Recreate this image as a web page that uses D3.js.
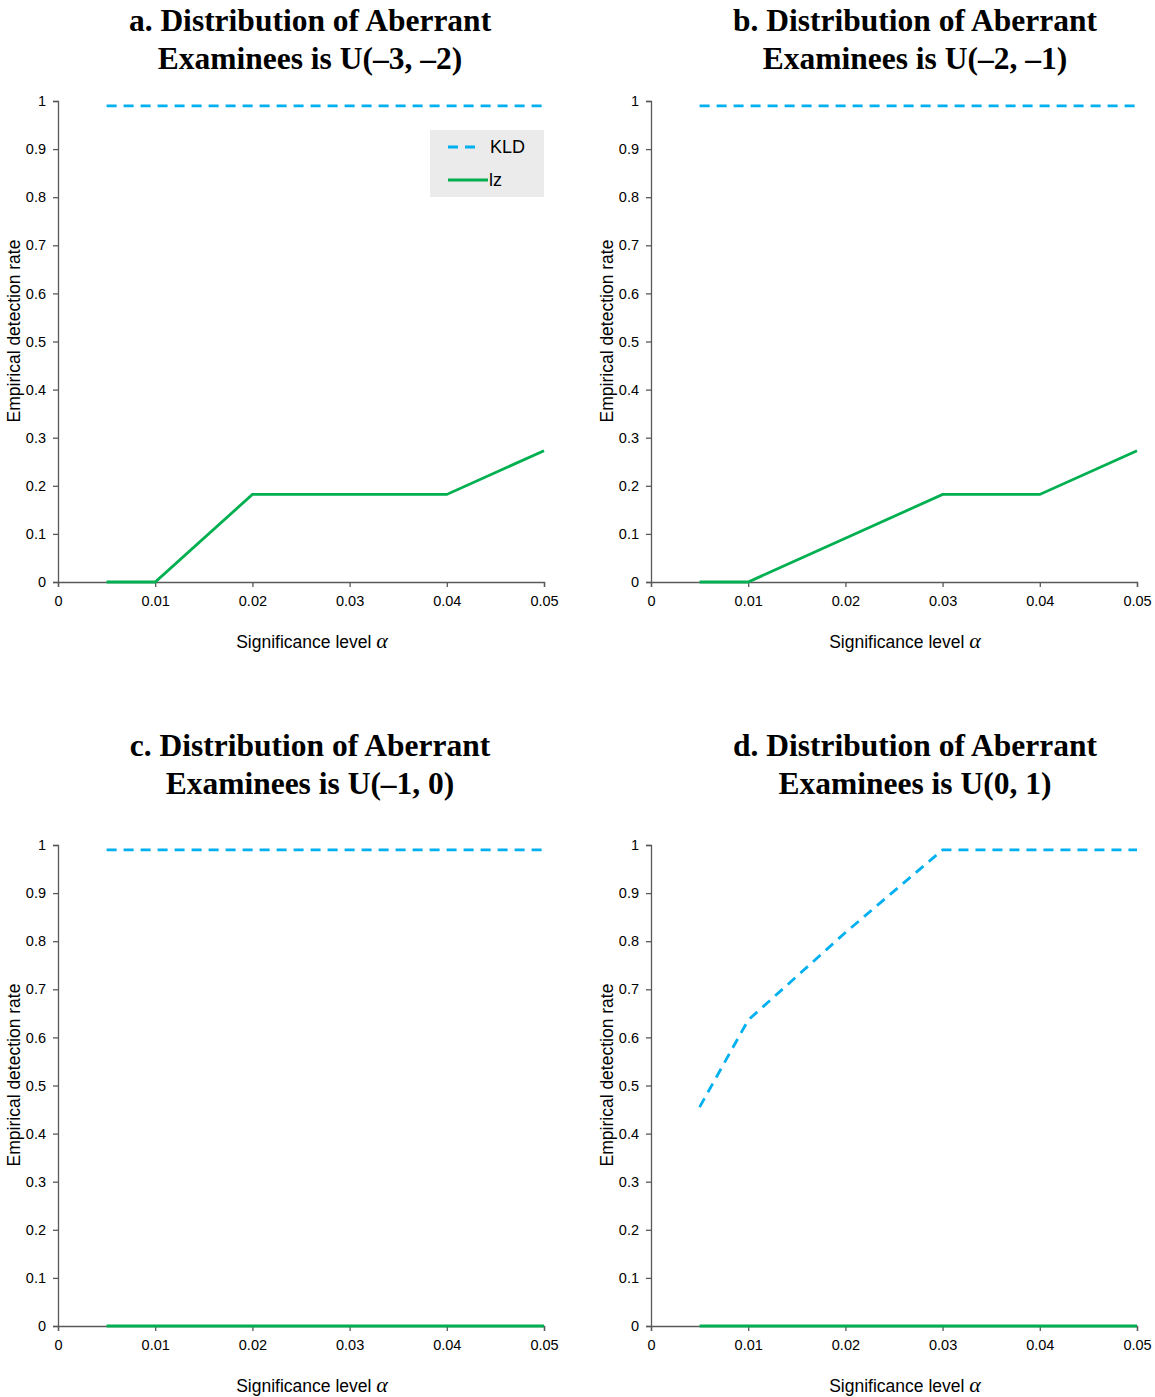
<!DOCTYPE html>
<html>
<head>
<meta charset="utf-8">
<script src="https://cdn.jsdelivr.net/npm/d3@7/dist/d3.min.js"></script>
<style>
  body { margin: 0; background: #fff; }
  svg { display: block; }
</style>
</head>
<body>
<script>
// significance levels
const alphas = [0.005, 0.01, 0.02, 0.03, 0.04, 0.05];
const xTicks = [0, 0.01, 0.02, 0.03, 0.04, 0.05];
const yTicks = [0, 0.1, 0.2, 0.3, 0.4, 0.5, 0.6, 0.7, 0.8, 0.9, 1];

const titles = [
  ["a. Distribution of Aberrant", "Examinees is U(\u20133, \u20132)"],
  ["b. Distribution of Aberrant", "Examinees is U(\u20132, \u20131)"],
  ["c. Distribution of Aberrant", "Examinees is U(\u20131, 0)"],
  ["d. Distribution of Aberrant", "Examinees is U(0, 1)"]
];

const kldA = [0.99, 0.99, 0.99, 0.99, 0.99, 0.99];
const lzA  = [0, 0, 0.182, 0.182, 0.182, 0.273];
const kldB = [0.99, 0.99, 0.99, 0.99, 0.99, 0.99];
const lzB  = [0, 0, 0.091, 0.182, 0.182, 0.273];
const kldC = [0.99, 0.99, 0.99, 0.99, 0.99, 0.99];
const lzC  = [0, 0, 0, 0, 0, 0];
const kldD = [0.455, 0.636, 0.818, 0.99, 0.99, 0.99];
const lzD  = [0, 0, 0, 0, 0, 0];

const panels = [
  { kld: kldA, lz: lzA, ox: 0,   oy: 0,   tx: 310, ty: 31,  legend: true },
  { kld: kldB, lz: lzB, ox: 593, oy: 0,   tx: 322, ty: 31 },
  { kld: kldC, lz: lzC, ox: 0,   oy: 744, tx: 310, ty: 12 },
  { kld: kldD, lz: lzD, ox: 593, oy: 744, tx: 322, ty: 12 }
];

const svg = d3.select('body').append('svg')
    .attr('width', 1155)
    .attr('height', 1397);

const axisColor = '#595959';
const sans = '"Liberation Sans", Arial, sans-serif';

panels.forEach((p, i) => {
  const g = svg.append('g').attr('transform', `translate(${p.ox},${p.oy})`);

  const x = d3.scaleLinear().domain([0, 0.05]).range([58, 544]);
  const y = d3.scaleLinear().domain([0, 1]).range([582, 101]);

  // title
  titles[i].forEach((t, k) => {
    g.append('text')
      .attr('x', p.tx).attr('y', p.ty + k * 38)
      .attr('text-anchor', 'middle')
      .style('font-family', '"Liberation Serif", "Times New Roman", serif')
      .style('font-weight', 'bold')
      .style('font-size', '31.5px')
      .text(t);
  });

  // y axis
  const ya = g.append('g').attr('transform', 'translate(58,0)')
    .call(d3.axisLeft(y).tickValues(yTicks).tickSize(5).tickPadding(7)
      .tickFormat(d => d === 0 || d === 1 ? d3.format('d')(d) : d3.format('.1f')(d)));
  // x axis
  const xa = g.append('g').attr('transform', 'translate(0,582)')
    .call(d3.axisBottom(x).tickValues(xTicks).tickSize(5).tickPadding(7)
      .tickFormat(d => d === 0 ? '0' : d3.format('.2f')(d)));

  [ya, xa].forEach(a => {
    a.select('.domain').attr('stroke', axisColor).attr('stroke-width', 1.3);
    a.selectAll('.tick line').attr('stroke', axisColor).attr('stroke-width', 1.3);
    a.selectAll('.tick text')
      .style('font-family', sans)
      .style('font-size', '14.5px')
      .attr('fill', '#000');
  });
  xa.selectAll('.tick text').attr('dy', '0.8em');

  // axis titles
  g.append('text')
    .attr('transform', 'translate(20,331) rotate(-90)')
    .attr('text-anchor', 'middle')
    .style('font-family', sans)
    .style('font-size', '17.5px')
    .text('Empirical detection rate');

  const xl = g.append('text')
    .attr('x', 312).attr('y', 648)
    .attr('text-anchor', 'middle')
    .style('font-family', sans)
    .style('font-size', '17.5px');
  xl.append('tspan').text('Significance level ');
  xl.append('tspan')
    .style('font-family', '"Liberation Serif", "Times New Roman", serif')
    .style('font-style', 'italic')
    .style('font-size', '22px')
    .text('\u03b1');

  const line = d3.line().x((d, j) => x(alphas[j])).y(d => y(d));

  g.append('path')
    .datum(p.lz)
    .attr('d', line)
    .attr('fill', 'none')
    .attr('stroke', '#00b050')
    .attr('stroke-width', 2.8);

  g.append('path')
    .datum(p.kld)
    .attr('d', line)
    .attr('fill', 'none')
    .attr('stroke', '#00b0f0')
    .attr('stroke-width', 2.8)
    .attr('stroke-dasharray', '10,7');

  if (p.legend) {
    const lg = g.append('g');
    lg.append('rect')
      .attr('x', 430).attr('y', 130).attr('width', 114).attr('height', 67)
      .attr('fill', '#ebebeb');
    lg.append('line')
      .attr('x1', 448).attr('x2', 482).attr('y1', 147).attr('y2', 147)
      .attr('stroke', '#00b0f0').attr('stroke-width', 2.8)
      .attr('stroke-dasharray', '10,7');
    lg.append('line')
      .attr('x1', 448).attr('x2', 488).attr('y1', 180).attr('y2', 180)
      .attr('stroke', '#00b050').attr('stroke-width', 2.8);
    lg.append('text').attr('x', 490).attr('y', 153)
      .style('font-family', sans)
      .style('font-size', '18px').text('KLD');
    lg.append('text').attr('x', 489).attr('y', 186)
      .style('font-family', sans)
      .style('font-size', '18px').text('lz');
  }
});
</script>
</body>
</html>
